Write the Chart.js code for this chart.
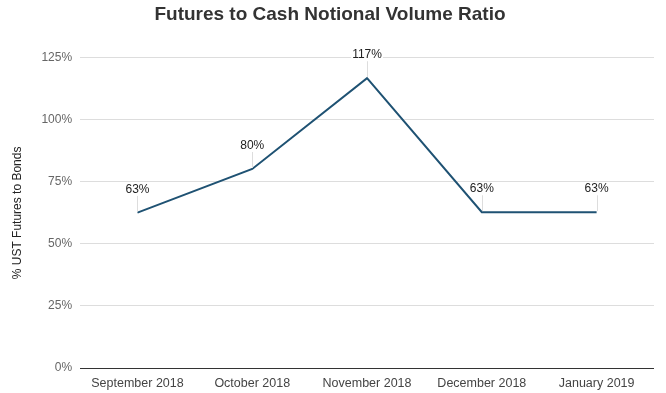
<!DOCTYPE html>
<html><head><meta charset="utf-8">
<script src="https://cdn.jsdelivr.net/npm/chart.js@4"></script>
<style>html,body{margin:0;padding:0;background:#fff}#w{width:666px;height:393px}</style>
</head><body><div id="w"><canvas id="c"></canvas></div>
<script>
const categories = ["September 2018","October 2018","November 2018","December 2018","January 2019"];
const ratioValues = [62.6, 80.2, 116.8, 62.8, 62.8];
const yTicks = [0,25,50,75,100,125];

const labelPlugin = {
  id:'lbl',
  afterDatasetsDraw(chart){
    const ctx = chart.ctx;
    const meta = chart.getDatasetMeta(0);
    ctx.save();
    ctx.font = '12px "Liberation Sans", Arial, sans-serif';
    ctx.textAlign='center'; ctx.textBaseline='middle';
    meta.data.forEach((pt,i)=>{
      const txt = Math.round(ratioValues[i])+'%';
      const ly = pt.y - 23;
      ctx.strokeStyle='#ddd'; ctx.lineWidth=1;
      ctx.beginPath(); ctx.moveTo(Math.round(pt.x)+0.5, ly+6); ctx.lineTo(Math.round(pt.x)+0.5, pt.y-1); ctx.stroke();
      const w = ctx.measureText(txt).width;
      ctx.fillStyle='#fff'; ctx.fillRect(pt.x-w/2-1, ly-6, w+2, 12);
      ctx.fillStyle='#222'; ctx.fillText(txt, pt.x, ly);
    });
    ctx.restore();
  }
};

new Chart(document.getElementById('c'),{
  type:'line',
  data:{labels:categories,datasets:[{data:ratioValues,borderColor:'#1f5273',borderWidth:2,pointRadius:0,tension:0,fill:false}]},
  options:{
    responsive:true,maintainAspectRatio:false,animation:false,
    layout:{padding:{left:6,right:12,top:0,bottom:2}},
    plugins:{legend:{display:false},tooltip:{enabled:false},
      title:{display:true,text:'Futures to Cash Notional Volume Ratio',color:'#333',font:{family:'"Liberation Sans", Arial, sans-serif',size:19,weight:'bold'},padding:{top:3,bottom:32}}},
    scales:{
      x:{offset:true,grid:{display:false},border:{display:false},
        ticks:{color:'#444',font:{family:'"Liberation Sans", Arial, sans-serif',size:12.5},maxRotation:0,padding:0}},
      y:{min:0,max:125,afterBuildTicks(ax){ax.ticks=yTicks.map(v=>({value:v}));},
        grid:{color:(c)=>c.tick && c.tick.value===0?'#333':'#ddd',drawTicks:false,lineWidth:1},
        border:{display:false},
        ticks:{color:'#666',padding:8,font:{family:'"Liberation Sans", Arial, sans-serif',size:12},callback:v=>v+'%'},
        title:{display:true,text:'% UST Futures to Bonds',color:'#222',font:{family:'"Liberation Sans", Arial, sans-serif',size:12},padding:{bottom:9}}}
    }
  },
  plugins:[labelPlugin]
});
</script></body></html>
